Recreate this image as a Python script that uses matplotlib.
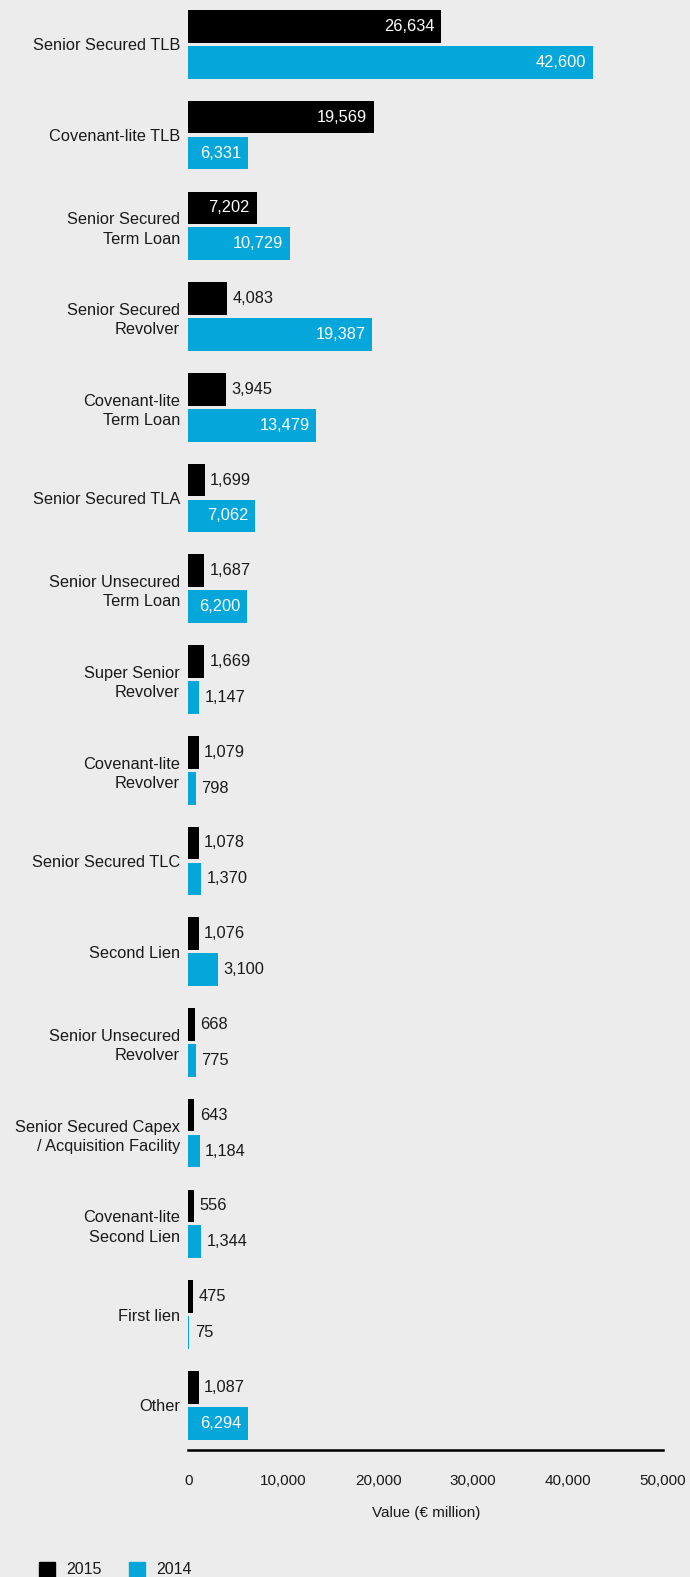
import matplotlib.pyplot as plt
from matplotlib.patches import Rectangle
import numpy as np

plt.rcParams['font.family'] = ['Liberation Sans', 'DejaVu Sans']

categories = ["Senior Secured TLB", "Covenant-lite TLB", "Senior Secured\nTerm Loan",
              "Senior Secured\nRevolver", "Covenant-lite\nTerm Loan", "Senior Secured TLA",
              "Senior Unsecured\nTerm Loan", "Super Senior\nRevolver", "Covenant-lite\nRevolver",
              "Senior Secured TLC", "Second Lien", "Senior Unsecured\nRevolver",
              "Senior Secured Capex\n/ Acquisition Facility", "Covenant-lite\nSecond Lien",
              "First lien", "Other"]
values_2015 = [26634, 19569, 7202, 4083, 3945, 1699, 1687, 1669, 1079, 1078, 1076, 668, 643, 556, 475, 1087]
values_2014 = [42600, 6331, 10729, 19387, 13479, 7062, 6200, 1147, 798, 1370, 3100, 775, 1184, 1344, 75, 6294]
xticks = [0, 10000, 20000, 30000, 40000, 50000]

BG = '#ececec'
BLACK = '#000000'
BLUE = '#05a6da'
TXT = '#1a1a1a'
FS = 11.8

fig = plt.figure(figsize=(6.9, 15.77), dpi=100, facecolor=BG)
ax = fig.add_axes([0.273, 0.0805, 0.961 - 0.273, 0.9195])
ax.set_facecolor(BG)

y = np.arange(len(categories))
h = 0.36
off = 0.198
b15 = ax.barh(y - off, values_2015, height=h, color=BLACK)
b14 = ax.barh(y + off, values_2014, height=h, color=BLUE)

# value labels: white inside long bars, dark just past short ones
for bars, vals in ((b15, values_2015), (b14, values_2014)):
    for bar, v in zip(bars, vals):
        cy = bar.get_y() + bar.get_height() / 2
        lab = f"{v:,}"
        if v >= 6000:
            ax.annotate(lab, (v, cy), xytext=(-5, 0), textcoords='offset points',
                        ha='right', va='center', color='white', fontsize=FS)
        else:
            ax.annotate(lab, (v, cy), xytext=(4, 0), textcoords='offset points',
                        ha='left', va='center', color=TXT, fontsize=FS)

ax.set_ylim(len(categories) - 1 + 0.493, -0.489)
ax.set_xlim(0, 50000)
ax.set_yticks(y)
ax.set_yticklabels(categories, fontsize=FS, color=TXT, linespacing=1.35)
ax.set_xticks(xticks)
ax.set_xticklabels([f"{t:,}" for t in xticks], fontsize=11, color=TXT)
ax.tick_params(axis='y', length=0, pad=6)
ax.tick_params(axis='x', length=0, pad=17)
for s in ('top', 'right', 'left'):
    ax.spines[s].set_visible(False)
ax.spines['bottom'].set_linewidth(1.8)
ax.spines['bottom'].set_color(BLACK)
ax.set_xlabel("Value (€ million)", fontsize=11, color=TXT, labelpad=13)

# legend along the bottom edge
W, H = 690, 1577
for x0, col, txt in ((39, BLACK, "2015"), (129, BLUE, "2014")):
    fig.add_artist(Rectangle((x0 / W, 0), 16 / W, 15 / H,
                             transform=fig.transFigure, color=col, clip_on=False))
    fig.text((x0 + 27) / W, 1 - 1570 / H, txt, fontsize=11.5, color=TXT, va='center')

fig.savefig('out.png', dpi=100, facecolor=BG)
